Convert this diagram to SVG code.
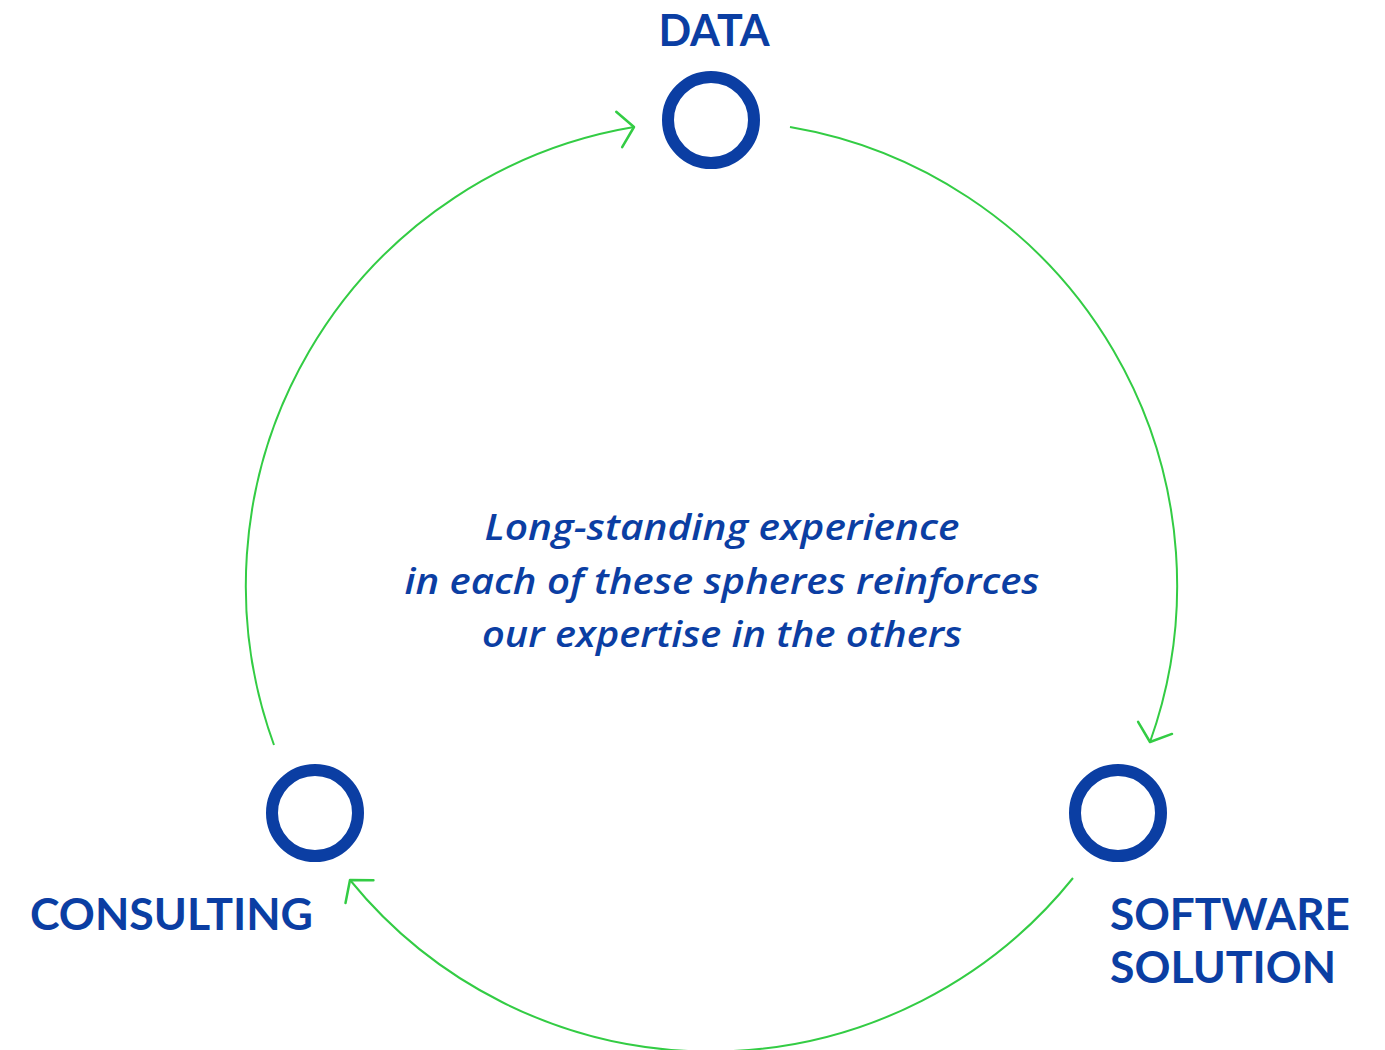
<svg xmlns="http://www.w3.org/2000/svg" width="1385" height="1050" viewBox="0 0 1385 1050">
<style>
.ring{fill:none;stroke:#0b3ea3;stroke-width:12}
.lbl{font-family:Lato,"Liberation Sans",sans-serif;font-weight:bold;font-size:43px;fill:#0b3ea3}
.cap{font-family:"Open Sans","Liberation Sans",sans-serif;font-style:italic;font-weight:600;font-size:36px;fill:#0b3ea3;text-anchor:middle}
.arc{fill:none;stroke:#33cc44;stroke-width:2;marker-end:url(#arr)}
</style>
<defs>
<marker id="arr" markerUnits="userSpaceOnUse" markerWidth="40" markerHeight="40" viewBox="-20 -20 40 40" refX="0" refY="0" orient="auto">
<path d="M-15,-18 L0,0 L-15,18" fill="none" stroke="#33cc44" stroke-width="2.5" stroke-linecap="round" stroke-linejoin="round"/>
</marker>
</defs>
<g id="connectors">
<path class="arc" d="M790,127 A465,465 0 0 1 1150,742"/>
<path class="arc" d="M1073,878 A465,465 0 0 1 350,880"/>
<path class="arc" d="M274,745 A465,465 0 0 1 634,127"/>
</g>
<g id="data">
<circle class="ring" cx="711" cy="120" r="43"/>
<text class="lbl" x="714" y="46" text-anchor="middle">DATA</text>
</g>
<g id="software">
<circle class="ring" cx="1118" cy="813" r="43"/>
<text class="lbl" x="1110" y="930" textLength="240" lengthAdjust="spacingAndGlyphs">SOFTWARE</text>
<text class="lbl" x="1110" y="983" textLength="226" lengthAdjust="spacingAndGlyphs">SOLUTION</text>
</g>
<g id="consulting">
<circle class="ring" cx="315" cy="813" r="43"/>
<text class="lbl" x="30" y="930" textLength="283" lengthAdjust="spacingAndGlyphs">CONSULTING</text>
</g>
<g id="caption">
<text class="cap" x="722" y="540" textLength="475" lengthAdjust="spacingAndGlyphs">Long-standing experience</text>
<text class="cap" x="722" y="594" textLength="635" lengthAdjust="spacingAndGlyphs">in each of these spheres reinforces</text>
<text class="cap" x="722" y="647" textLength="480" lengthAdjust="spacingAndGlyphs">our expertise in the others</text>
</g>
</svg>
